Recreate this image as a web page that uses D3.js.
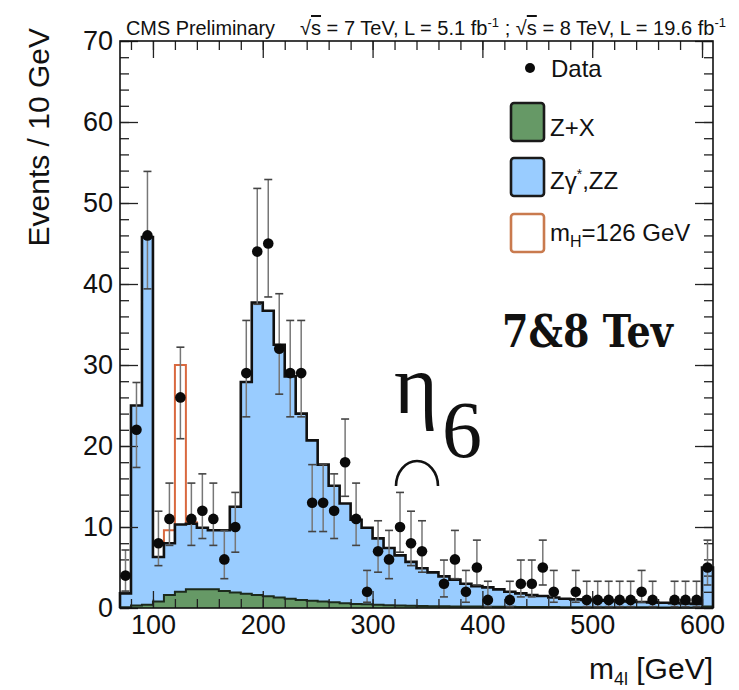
<!DOCTYPE html>
<html>
<head>
<meta charset="utf-8">
<script src="https://cdn.jsdelivr.net/npm/d3@7"></script>
<style>
  html, body { margin: 0; padding: 0; background: #fff; }
  svg { display: block; }
  text { font-family: "Liberation Sans", Arial, Helvetica, sans-serif; fill: #111; }
</style>
</head>
<body>
<svg id="chart" width="739" height="690"></svg>
<script>
// ---------------- data ----------------
const binLow = [70,80,90,100,110,120,130,140,150,160,170,180,190,200,210,220,230,240,250,260,
  270,280,290,300,310,320,330,340,350,360,370,380,390,400,410,420,430,440,450,460,
  470,480,490,500,510,520,530,540,550,560,570,580,590,600];
const binWidth = 10;

// observed events per bin
const dataCounts = [4,22,46,8,11,26,11,12,11,6,10,29,44,45,32,29,29,13,13,12,
  18,11,2,7,6,10,8,7,0,3,6,2,5,1,0,1,3,3,5,2,
  0,2,1,1,1,1,1,2,1,0,1,1,1,5];
// error bar extents (lower / upper ends)
const errLo = [2.09,17.35,39.4,5.23,7.73,20.9,7.73,8.58,7.73,3.62,6.89,23.6,37.5,38.4,26.4,23.6,23.6,9.44,9.44,8.58,
  13.79,7.73,0.71,4.42,3.62,6.89,5.23,4.42,0,1.37,3.62,0.71,2.84,0.17,0,0.17,1.37,1.37,2.84,0.71,
  0,0.71,0.17,0.17,0.17,0.17,0.17,0.71,0.17,0,0.17,0.17,0.17,2.84];
const errHi = [7.16,27.84,53.9,11.95,15.42,32.2,15.42,16.56,15.42,9.58,14.27,35.5,51.8,52.9,38.8,35.5,35.5,17.7,17.7,16.56,
  23.33,15.42,4.64,10.77,9.58,14.27,11.95,10.77,0,5.92,9.58,4.64,8.38,3.3,0,3.3,5.92,5.92,8.38,4.64,
  0,4.64,3.3,3.3,3.3,3.3,3.3,4.64,3.3,0,3.3,3.3,3.3,8.38];

// Z+X background
const zxValues = [0.1,0.3,0.4,0.8,1.6,2.0,2.3,2.3,2.3,2.1,
  1.9,1.75,1.6,1.45,1.3,1.15,1.0,0.9,0.8,0.7,
  0.6,0.5,0.45,0.4,0.35,0.3,0.28,0.25,0.23,0.21,
  0.2,0.18,0.17,0.16,0.15,0.14,0.13,0.12,0.12,0.11,
  0.1,0.1,0.1,0.09,0.09,0.09,0.08,0.08,0.08,0.07,
  0.07,0.07,0.06,0.2];
// Zgamma*, ZZ background
const zzValues = [1.7,24.7,45.4,5.5,6.4,8.3,8.1,7.6,7.3,7.5,
  10.6,26.15,36.1,35.25,31.2,27.45,23.0,19.8,16.9,14.4,
  12.3,10.4,9.45,8.2,7.05,6.2,5.42,4.65,4.17,3.69,
  3.3,2.82,2.53,2.39,2.15,1.86,1.67,1.48,1.36,1.19,
  1.05,0.97,0.9,0.86,0.81,0.76,0.72,0.67,0.62,0.58,
  0.53,0.48,0.44,4.8];
// mH = 126 GeV signal
const sigValues = [0,0,0,0,1.6,19.7,0.2,0,0,0,
  0,0,0,0,0,0,0,0,0,0, 0,0,0,0,0,0,0,0,0,0,
  0,0,0,0,0,0,0,0,0,0, 0,0,0,0,0,0,0,0,0,0, 0,0,0,0];

const xTickValues = [100,200,300,400,500,600];
const yTickValues = [0,10,20,30,40,50,60,70];
const xMinorTicks = d3.range(80, 611, 20);
const yMinorTicks = d3.range(0, 71, 2);

// ---------------- layout ----------------
const L = 120, R = 713, T = 41, B = 608;
const svg = d3.select("#chart");
const x = d3.scaleLinear().domain([70, 610]).range([L, R]);
const y = d3.scaleLinear().domain([0, 70]).range([B, T]);

const rows = binLow.map((lo, i) => ({lo, zx: zxValues[i], zz: zzValues[i], sig: sigValues[i]}));
const stack = d3.stack().keys(["zx", "zz", "sig"])(rows);

function stepPts(vals) {
  const pts = [];
  vals.forEach((v, i) => {
    pts.push([binLow[i], v]);
    pts.push([binLow[i] + binWidth, v]);
  });
  return pts;
}
const areaGen = d3.area().x(d => x(d[0])).y0(y(0)).y1(d => y(d[1]));
const lineGen = d3.line().x(d => x(d[0])).y(d => y(d[1]));

const totalBkg = stack[1].map(d => d[1]);
const totalSig = stack[2].map(d => d[1]);
const zxTop = stack[0].map(d => d[1]);

const g = svg.append("g");
g.append("path").attr("d", areaGen(stepPts(totalBkg))).attr("fill", "#99ccff");
g.append("path").attr("d", areaGen(stepPts(zxTop))).attr("fill", "#669966");
g.append("path").attr("d", lineGen(stepPts(zxTop))).attr("fill", "none")
  .attr("stroke", "#1c2a1c").attr("stroke-width", 2);
{
  const sigIdx = sigValues.map((v, i) => v > 0 ? i : -1).filter(i => i >= 0);
  const i0 = d3.min(sigIdx), i1 = d3.max(sigIdx);
  const pts = [[binLow[i0], totalBkg[i0]]];
  for (let i = i0; i <= i1; i++) {
    pts.push([binLow[i], totalSig[i]]);
    pts.push([binLow[i] + binWidth, totalSig[i]]);
  }
  pts.push([binLow[i1] + binWidth, totalBkg[i1]]);
  g.append("path").attr("d", lineGen(pts)).attr("fill", "none")
    .attr("stroke", "#d9693f").attr("stroke-width", 2);
}
{
  const pts = [[70, 0]].concat(stepPts(totalBkg)).concat([[610, 0]]);
  g.append("path").attr("d", lineGen(pts)).attr("fill", "none")
    .attr("stroke", "#111").attr("stroke-width", 2.6).attr("stroke-linejoin", "miter");
}

// ---------------- axes ----------------
function styleAxis(sel) {
  sel.select(".domain").remove();
  sel.selectAll(".tick line").attr("stroke", "#222").attr("stroke-width", 1.3);
}
const fs = 27;
svg.append("g").attr("transform", `translate(0,${B})`)
  .call(d3.axisBottom(x).tickValues(xTickValues).tickSize(-17).tickPadding(7).tickFormat(d3.format("d")))
  .call(styleAxis)
  .call(s => s.selectAll("text").attr("font-size", fs).attr("fill", "#222")
    .style("font-family", '"Liberation Sans", Arial, sans-serif'));
svg.append("g").attr("transform", `translate(0,${B})`)
  .call(d3.axisBottom(x).tickValues(xMinorTicks).tickSize(-9).tickFormat(""))
  .call(styleAxis);
svg.append("g").attr("transform", `translate(0,${T})`)
  .call(d3.axisTop(x).tickValues(xTickValues).tickSize(-17).tickFormat(""))
  .call(styleAxis);
svg.append("g").attr("transform", `translate(0,${T})`)
  .call(d3.axisTop(x).tickValues(xMinorTicks).tickSize(-9).tickFormat(""))
  .call(styleAxis);
svg.append("g").attr("transform", `translate(${L},0)`)
  .call(d3.axisLeft(y).tickValues(yTickValues).tickSize(-18).tickPadding(7).tickFormat(d3.format("d")))
  .call(styleAxis)
  .call(s => s.selectAll("text").attr("font-size", fs).attr("fill", "#222")
    .style("font-family", '"Liberation Sans", Arial, sans-serif'));
svg.append("g").attr("transform", `translate(${L},0)`)
  .call(d3.axisLeft(y).tickValues(yMinorTicks).tickSize(-9).tickFormat(""))
  .call(styleAxis);
svg.append("g").attr("transform", `translate(${R},0)`)
  .call(d3.axisRight(y).tickValues(yTickValues).tickSize(-18).tickFormat(""))
  .call(styleAxis);
svg.append("g").attr("transform", `translate(${R},0)`)
  .call(d3.axisRight(y).tickValues(yMinorTicks).tickSize(-9).tickFormat(""))
  .call(styleAxis);

svg.append("rect").attr("x", L).attr("y", T).attr("width", R - L).attr("height", B - T)
  .attr("fill", "none").attr("stroke", "#111").attr("stroke-width", 1.6);

// ---------------- data points ----------------
const pts = binLow.map((lo, i) => ({cx: lo + binWidth / 2, n: dataCounts[i], lo: errLo[i], hi: errHi[i]}))
  .filter(d => d.n > 0);
const eg = svg.append("g");
eg.selectAll("line.err").data(pts).join("line")
  .attr("x1", d => x(d.cx)).attr("x2", d => x(d.cx))
  .attr("y1", d => y(d.lo)).attr("y2", d => y(d.hi))
  .attr("stroke", "#777").attr("stroke-width", 1.5);
eg.selectAll("line.capHi").data(pts).join("line")
  .attr("x1", d => x(d.cx) - 4).attr("x2", d => x(d.cx) + 4)
  .attr("y1", d => y(d.hi)).attr("y2", d => y(d.hi))
  .attr("stroke", "#444").attr("stroke-width", 1.6);
eg.selectAll("line.capLo").data(pts).join("line")
  .attr("x1", d => x(d.cx) - 4).attr("x2", d => x(d.cx) + 4)
  .attr("y1", d => y(d.lo)).attr("y2", d => y(d.lo))
  .attr("stroke", "#444").attr("stroke-width", 1.6);
eg.selectAll("circle").data(pts).join("circle")
  .attr("cx", d => x(d.cx)).attr("cy", d => y(d.n)).attr("r", 5.3).attr("fill", "#0a0a0a");

// ---------------- titles ----------------
svg.append("text").attr("x", 126).attr("y", 35).attr("font-size", 20)
  .attr("textLength", 149).attr("lengthAdjust", "spacingAndGlyphs")
  .text("CMS Preliminary");
{
  const t = svg.append("text").attr("x", 300).attr("y", 35).attr("font-size", 20)
    .attr("textLength", 426).attr("lengthAdjust", "spacingAndGlyphs");
  t.append("tspan").text("√");
  t.append("tspan").style("text-decoration", "overline").text("s");
  t.append("tspan").text(" = 7 TeV, L = 5.1 fb");
  t.append("tspan").attr("font-size", 13).attr("dy", -8).text("-1");
  t.append("tspan").attr("dy", 8).text(" ; √");
  t.append("tspan").style("text-decoration", "overline").text("s");
  t.append("tspan").text(" = 8 TeV, L = 19.6 fb");
  t.append("tspan").attr("font-size", 13).attr("dy", -8).text("-1");
}
svg.append("text").attr("transform", "translate(49,28) rotate(-90)")
  .attr("text-anchor", "end").attr("font-size", 30).attr("fill", "#222")
  .text("Events / 10 GeV");
{
  const t = svg.append("text").attr("x", 713).attr("y", 679).attr("text-anchor", "end")
    .attr("font-size", 30).attr("fill", "#222");
  t.append("tspan").text("m");
  t.append("tspan").attr("font-size", 18).attr("dy", 6).text("4l");
  t.append("tspan").attr("dy", -6).text(" [GeV]");
}

// ---------------- legend ----------------
const lg = svg.append("g");
lg.append("circle").attr("cx", 530).attr("cy", 68).attr("r", 5).attr("fill", "#0a0a0a");
lg.append("text").attr("x", 551).attr("y", 77).attr("font-size", 24).text("Data");
const legendBoxes = [
  {y: 103, fill: "#669966", stroke: "#1a1a1a"},
  {y: 158, fill: "#99ccff", stroke: "#1a1a1a"},
  {y: 214, fill: "#ffffff", stroke: "#c97a4e"}
];
lg.selectAll("rect").data(legendBoxes).join("rect")
  .attr("x", 511).attr("y", d => d.y).attr("width", 33).attr("height", 38)
  .attr("rx", 3).attr("fill", d => d.fill).attr("stroke", d => d.stroke).attr("stroke-width", 2.6);
lg.append("text").attr("x", 550).attr("y", 136).attr("font-size", 24).text("Z+X");
{
  const t = lg.append("text").attr("x", 550).attr("y", 189).attr("font-size", 24);
  t.append("tspan").text("Zγ");
  t.append("tspan").attr("font-size", 14).attr("dy", -10).text("*");
  t.append("tspan").attr("dy", 10).text(",ZZ");
}
{
  const t = lg.append("text").attr("x", 550).attr("y", 241).attr("font-size", 24);
  t.append("tspan").text("m");
  t.append("tspan").attr("font-size", 16).attr("dy", 6).text("H");
  t.append("tspan").attr("dy", -6).text("=126 GeV");
}

// ---------------- annotations ----------------
svg.append("text").attr("x", 502).attr("y", 347)
  .style("font-family", '"DejaVu Serif", "Liberation Serif", serif')
  .attr("font-weight", "bold").attr("font-size", 45)
  .attr("textLength", 171).attr("lengthAdjust", "spacingAndGlyphs")
  .text("7&8 Tev");
svg.append("text").attr("x", 394).attr("y", 413)
  .style("font-family", '"Liberation Serif", "DejaVu Serif", serif')
  .attr("font-size", 84).text("η");
svg.append("text").attr("x", 442).attr("y", 457)
  .style("font-family", '"Liberation Serif", "DejaVu Serif", serif')
  .attr("font-size", 80).text("6");
svg.append("path").attr("d", "M396,486 A21,25 0 0 1 438,486")
  .attr("fill", "none").attr("stroke", "#111").attr("stroke-width", 2.6);
</script>
</body>
</html>
